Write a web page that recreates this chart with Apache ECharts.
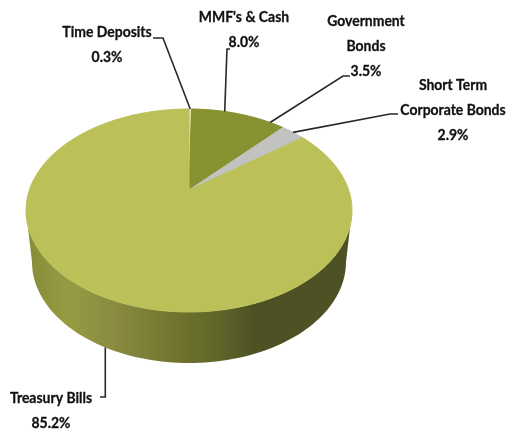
<!DOCTYPE html>
<html>
<head>
<meta charset="utf-8">
<style>html,body{margin:0;padding:0;background:#fff}#chart{width:507px;height:432px}</style>
<script src="https://cdn.jsdelivr.net/npm/echarts@6/dist/echarts.min.js"></script>
</head>
<body>
<div id="chart"></div>
<script>
// Portfolio allocation, clockwise from twelve o'clock
const holdings = ['Time Deposits', "MMF's & Cash", 'Government\nBonds', 'Short Term\nCorporate Bonds', 'Treasury Bills'];
const shares = [0.3, 8.0, 3.5, 2.9, 85.2];
const shareLabels = ['0.3%', '8.0%', '3.5%', '2.9%', '85.2%'];

const sliceColors = ['#e9ebb4', '#87912f', '#87912f', '#c2c2c0', '#bbc158'];

// Label centre and the leader's start and elbow, one entry per holding
const labelCentres = [[107, 45], [244, 30], [366, 46], [453, 110], [51, 411]];
const leaderStarts = [[153, 38], [230, 49], [350, 76], [398, 114], [100, 397]];
const leaderElbows = [[163, 38], [227, 49], [343, 76], [390, 114], [null, 397]];

// Top face ellipse and its apex; the apex sits above the ellipse centre (perspective view)
const topFace = { cx: 189, cy: 210.5, rx: 163, ry: 101.5 };
const apex = [189, 190];
const baseRim = { cx: 189, cy: 262, rx: 157, ry: 101 };
const offset = (topFace.cy - apex[1]) / topFace.ry;
const squeeze = Math.sqrt((1 - offset) / (1 + offset));

// Slice angle (degrees clockwise from top) to the parameter on the projected circle
function rimParam(deg) {
  const h = deg * Math.PI / 360;
  return 2 * Math.atan2(squeeze * Math.sin(h), Math.cos(h));
}
function ellipsePoint(e, t) {
  return [e.cx + e.rx * Math.sin(t), e.cy - e.ry * Math.cos(t)];
}

const total = shares.reduce((a, b) => a + b, 0);
const spans = [];
shares.reduce((acc, v) => {
  const next = acc + v / total * 360;
  spans.push([acc, next]);
  return next;
}, 0);

function wallElement() {
  const pts = [];
  for (let d = 90; d <= 270; d += 2) pts.push(ellipsePoint(topFace, d * Math.PI / 180));
  for (let d = 270; d >= 90; d -= 2) pts.push(ellipsePoint(baseRim, d * Math.PI / 180));
  return {
    type: 'polygon',
    shape: { points: pts },
    style: {
      fill: new echarts.graphic.LinearGradient(0, 0, 1, 0, [
        { offset: 0, color: '#858b38' },
        { offset: 0.13, color: '#969b42' },
        { offset: 0.29, color: '#88893f' },
        { offset: 0.44, color: '#72762f' },
        { offset: 0.6, color: '#5f6329' },
        { offset: 0.7, color: '#4e5124' },
        { offset: 1, color: '#4e5124' }
      ])
    }
  };
}

function renderSlice(params, api) {
  const i = params.dataIndex;
  const [from, to] = spans[i];
  const pts = [apex];
  const steps = Math.max(2, Math.ceil(to - from));
  for (let s = 0; s <= steps; s++) {
    pts.push(ellipsePoint(topFace, rimParam(from + (to - from) * s / steps)));
  }
  const children = [];
  if (i === holdings.length - 1) children.push(wallElement());
  children.push({
    type: 'polygon',
    shape: { points: pts },
    style: { fill: sliceColors[i], stroke: sliceColors[i], lineWidth: 1 }
  });

  // Leader runs from the label to the rim at the slice's mid-angle
  const midT = rimParam((from + to) / 2);
  const onWall = Math.cos(midT) < 0;
  const end = ellipsePoint(onWall ? baseRim : topFace, midT);
  const elbow = [leaderElbows[i][0] === null ? end[0] : leaderElbows[i][0], leaderElbows[i][1]];
  children.push({
    type: 'polyline',
    shape: { points: [leaderStarts[i], elbow, end] },
    style: { fill: 'none', stroke: '#26282a', lineWidth: 1.6 }
  });
  children.push({
    type: 'text',
    x: labelCentres[i][0],
    y: labelCentres[i][1],
    scaleX: 0.93,
    style: {
      text: holdings[i] + '\n' + shareLabels[i],
      font: 'bold 15px Lato, sans-serif',
      fill: '#111',
      stroke: '#111',
      lineWidth: 0.3,
      align: 'center',
      verticalAlign: 'middle',
      lineHeight: 25
    }
  });
  return { type: 'group', children };
}

const chart = echarts.init(document.getElementById('chart'), null, { renderer: 'canvas' });
chart.setOption({
  animation: false,
  backgroundColor: '#ffffff',
  series: [{
    type: 'custom',
    coordinateSystem: 'none',
    renderItem: renderSlice,
    data: shares.map(v => [v])
  }]
});
</script>
</body>
</html>
